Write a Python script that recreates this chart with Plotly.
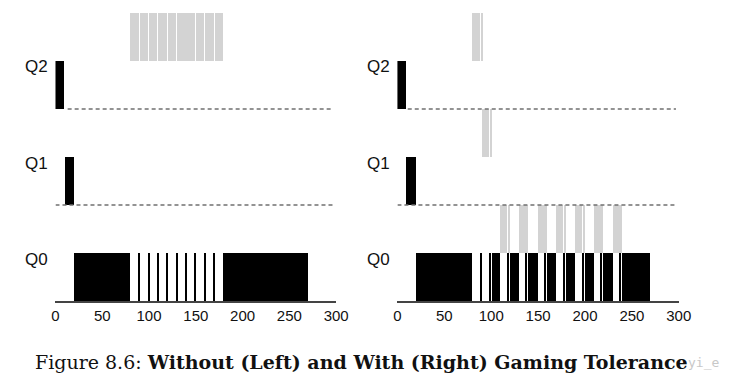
import plotly.graph_objects as go

# ---------------- data (time in ms, level 0=Q0,1=Q1,2=Q2) ----------------
TICKS = [0, 50, 100, 150, 200, 250, 300]
QUEUE_LABELS = ["Q0", "Q1", "Q2"]

# Left panel: without gaming tolerance
L_BLACK_START = [0, 11, 20, 89.5, 99.5, 109.5, 119.5, 129.5, 139.5, 149.5, 159.5, 169.5, 180]
L_BLACK_END   = [10, 20, 80, 90.5, 100.5, 110.5, 120.5, 130.5, 140.5, 150.5, 160.5, 170.5, 270]
L_BLACK_LEVEL = [2, 1, 0, 0, 0, 0, 0, 0, 0, 0, 0, 0, 0]

L_GRAY_START = [80, 90.5, 100.5, 110.5, 120.5, 130.5, 140.5, 150.5, 160.5, 170.5]
L_GRAY_END   = [89.5, 99.5, 109.5, 119.5, 129.5, 139.5, 149.5, 159.5, 169.5, 180]
L_GRAY_LEVEL = [2, 2, 2, 2, 2, 2, 2, 2, 2, 2]

# Right panel: with gaming tolerance
R_BLACK_START = [0, 10, 20, 89, 98.5, 101, 117.5, 120, 137.5, 140, 157.5, 160, 177.5, 180,
                 197.5, 200, 217.5, 220, 237.5, 240]
R_BLACK_END   = [10, 20, 80, 90, 99.5, 110, 118.5, 130, 138.5, 150, 158.5, 170, 178.5, 190,
                 198.5, 210, 218.5, 230, 238.5, 270]
R_BLACK_LEVEL = [2, 1, 0, 0, 0, 0, 0, 0, 0, 0, 0, 0, 0, 0, 0, 0, 0, 0, 0, 0]

R_GRAY_START = [80, 90, 91, 99.5, 110, 118.5, 130, 138.5, 150, 158.5, 170, 178.5,
                190, 198.5, 210, 218.5, 230, 238.5]
R_GRAY_END   = [89, 91, 98.5, 101, 117.5, 120, 137.5, 140, 157.5, 160, 177.5, 180,
                197.5, 200, 217.5, 220, 237.5, 240]
R_GRAY_LEVEL = [2, 2, 1, 1, 0, 0, 0, 0, 0, 0, 0, 0, 0, 0, 0, 0, 0, 0]

# dashed queue guide lines (start, end) for Q1 and Q2
L_DASH = {1: (0, 297), 2: (13, 297)}
R_DASH = {1: (0, 297), 2: (11, 297)}

CAPTION_PREFIX = "Figure 8.6: "
CAPTION_BOLD = "Without (Left) and With (Right) Gaming Tolerance"

BLACK = "#000000"
GRAY = "#d3d3d3"

W, H = 738, 385
ydom = [(H - 301) / H, (H - 13) / H]
XDOM = {"x": [52.7 / W, 340 / W], "x2": [402.7 / W, 690.7 / W]}

fig = go.Figure()


def add_panel(xa, dash, bstart, bend, blevel, gstart, gend, glevel):
    for lvl, (a, b) in dash.items():
        fig.add_trace(go.Scatter(
            x=[a, b], y=[2 * lvl, 2 * lvl], mode="lines",
            line=dict(color="#707070", width=1.3, dash="4px,3px"),
            xaxis=xa, yaxis="y", hoverinfo="skip", showlegend=False))
    fig.add_trace(go.Bar(
        orientation="h", base=bstart, x=[e - s for s, e in zip(bstart, bend)],
        y=[2 * l + 0.5 for l in blevel], width=[1.0] * len(bstart),
        marker=dict(color=BLACK, line=dict(width=0)),
        xaxis=xa, yaxis="y", hoverinfo="skip", showlegend=False))
    fig.add_trace(go.Bar(
        orientation="h", base=gstart, x=[e - s for s, e in zip(gstart, gend)],
        y=[2 * l + 1.5 for l in glevel], width=[1.0] * len(gstart),
        marker=dict(color=GRAY, line=dict(width=0)),
        xaxis=xa, yaxis="y", hoverinfo="skip", showlegend=False))
    # queue labels, placed in paper coords just left of the panel
    x_left = XDOM[xa][0] - 6.0 / W
    for i, lab in enumerate(QUEUE_LABELS):
        ypix = 301 - 48 * (2 * i + 1) + 6
        fig.add_annotation(
            x=x_left, y=(H - ypix) / H, xref="paper", yref="paper", text=lab,
            showarrow=False, xanchor="right", yanchor="middle",
            font=dict(family="Liberation Sans, Arial, sans-serif", size=17, color="#111"))


add_panel("x", L_DASH, L_BLACK_START, L_BLACK_END, L_BLACK_LEVEL,
          L_GRAY_START, L_GRAY_END, L_GRAY_LEVEL)
add_panel("x2", R_DASH, R_BLACK_START, R_BLACK_END, R_BLACK_LEVEL,
          R_GRAY_START, R_GRAY_END, R_GRAY_LEVEL)

axis_common = dict(
    range=[0, 300], tickvals=TICKS, ticktext=[str(t) for t in TICKS],
    showgrid=False, zeroline=False, showline=True, linecolor="#444", linewidth=2,
    ticks="", tickfont=dict(family="Liberation Sans, Arial, sans-serif", size=15, color="#111"),
    fixedrange=True,
)

fig.update_layout(
    width=W, height=H, autosize=False,
    margin=dict(l=0, r=0, t=0, b=0),
    paper_bgcolor="white", plot_bgcolor="white",
    barmode="overlay", bargap=0,
    xaxis=dict(domain=XDOM["x"], anchor="y", **axis_common),
    xaxis2=dict(domain=XDOM["x2"], anchor="y", **axis_common),
    yaxis=dict(domain=ydom, range=[0, 6], visible=False, fixedrange=True),
)

fig.add_annotation(
    x=30 / W, y=(H - 362) / H, xref="paper", yref="paper", xanchor="left", yanchor="middle",
    text=CAPTION_PREFIX + "<b>" + CAPTION_BOLD + "</b>", showarrow=False,
    font=dict(family="DejaVu Serif, serif", size=19, color="#111"))
fig.add_annotation(
    x=734 / W, y=(H - 362) / H, xref="paper", yref="paper", xanchor="right", yanchor="middle",
    text="yi_e", showarrow=False,
    font=dict(family="DejaVu Sans Mono, monospace", size=13, color="#c8c8c8"))

fig.write_html("out.html", config={"displayModeBar": False},
               post_script="document.body.style.margin='0';document.body.style.padding='0';")
